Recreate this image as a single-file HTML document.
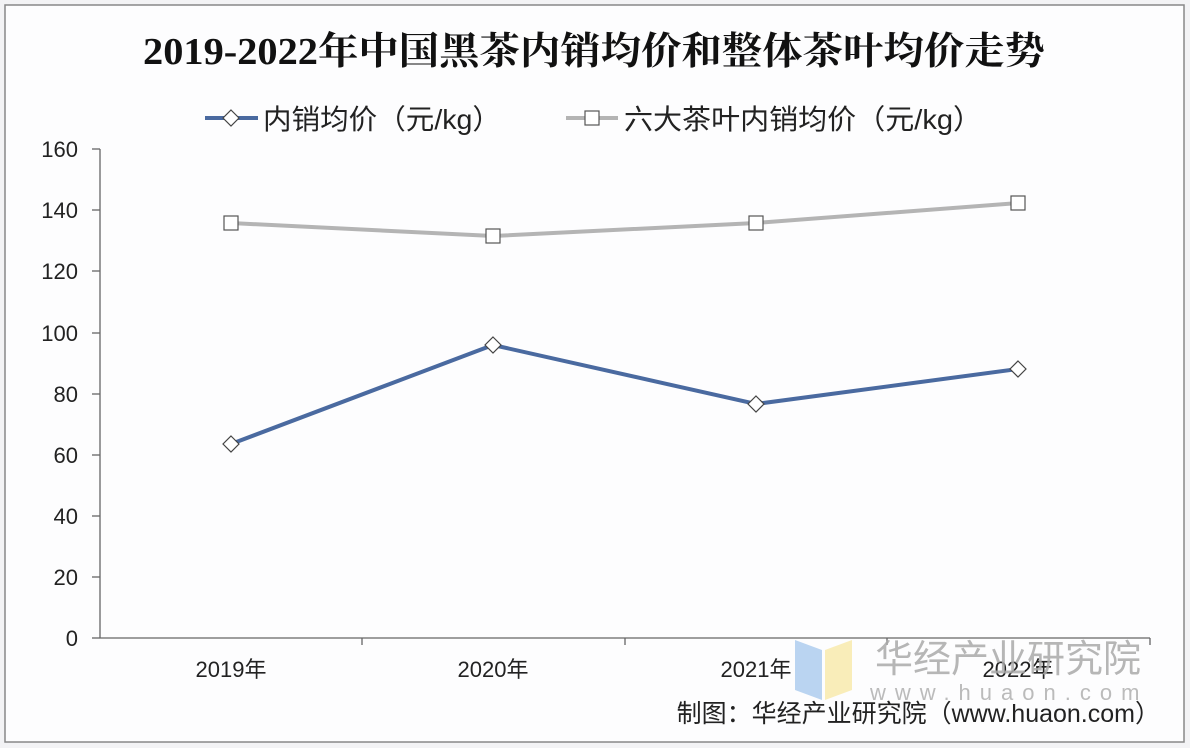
<!DOCTYPE html>
<html><head><meta charset="utf-8"><style>
html,body{margin:0;padding:0;background:#f3f3f5;}
svg{display:block;}
</style></head><body>
<svg width="1190" height="748" xmlns="http://www.w3.org/2000/svg" font-family="'Liberation Sans','Noto Sans CJK SC',sans-serif">
<rect x="5" y="5" width="1179" height="737" fill="#fdfdfe" stroke="#888" stroke-width="1.5"/>
<text x="143" y="64" textLength="902" lengthAdjust="spacingAndGlyphs" font-family="'Liberation Serif','Noto Serif CJK SC',serif" font-weight="bold" font-size="38" fill="#111">2019-2022年中国黑茶内销均价和整体茶叶均价走势</text>
<!-- legend -->
<line x1="205" y1="118" x2="258" y2="118" stroke="#4a6aa0" stroke-width="4"/>
<polygon points="231,110 239,118 231,126 223,118" fill="#fff" stroke="#444" stroke-width="1.2"/>
<text x="263" y="129" textLength="238" lengthAdjust="spacingAndGlyphs" font-size="28" fill="#222">内销均价（元/kg）</text>
<line x1="566" y1="118" x2="618" y2="118" stroke="#b4b4b4" stroke-width="4"/>
<rect x="585" y="111" width="14" height="14" fill="#fff" stroke="#555" stroke-width="1.2"/>
<text x="624" y="129" textLength="358" lengthAdjust="spacingAndGlyphs" font-size="28" fill="#222">六大茶叶内销均价（元/kg）</text>
<!-- axes -->
<g stroke="#666" stroke-width="1.3">
<line x1="100" y1="149" x2="100" y2="638"/>
<line x1="100" y1="638" x2="1150" y2="638"/>
<line x1="92" y1="149" x2="100" y2="149"/><line x1="92" y1="210" x2="100" y2="210"/><line x1="92" y1="271" x2="100" y2="271"/><line x1="92" y1="333" x2="100" y2="333"/><line x1="92" y1="394" x2="100" y2="394"/><line x1="92" y1="455" x2="100" y2="455"/><line x1="92" y1="516" x2="100" y2="516"/><line x1="92" y1="577" x2="100" y2="577"/><line x1="92" y1="638" x2="100" y2="638"/>
<line x1="362" y1="638" x2="362" y2="645"/><line x1="625" y1="638" x2="625" y2="645"/><line x1="887" y1="638" x2="887" y2="645"/><line x1="1150" y1="638" x2="1150" y2="645"/>
</g>
<g font-size="22" fill="#222" text-anchor="end">
<text x="78" y="157">160</text><text x="78" y="218">140</text><text x="78" y="279">120</text><text x="78" y="341">100</text><text x="78" y="402">80</text><text x="78" y="463">60</text><text x="78" y="524">40</text><text x="78" y="585">20</text><text x="78" y="646">0</text>
</g>
<g font-size="22" fill="#222" text-anchor="middle">
<text x="231" y="677">2019年</text><text x="493" y="677">2020年</text><text x="756" y="677">2021年</text><text x="1018" y="677">2022年</text>
</g>
<!-- series -->
<polyline points="231,223 493,236 756,223 1018,203" fill="none" stroke="#b4b4b4" stroke-width="4"/>
<g fill="#fff" stroke="#555" stroke-width="1.2">
<rect x="224" y="216" width="14" height="14"/><rect x="486" y="229" width="14" height="14"/><rect x="749" y="216" width="14" height="14"/><rect x="1011" y="196" width="14" height="14"/>
</g>
<polyline points="231,444 493,345 756,404 1018,369" fill="none" stroke="#4a6aa0" stroke-width="4"/>
<g fill="#fff" stroke="#444" stroke-width="1.2">
<polygon points="231,436 239,444 231,452 223,444"/><polygon points="493,337 501,345 493,353 485,345"/><polygon points="756,396 764,404 756,412 748,404"/><polygon points="1018,361 1026,369 1018,377 1010,369"/>
</g>
<!-- watermark -->
<polygon points="795,640 822,650 822,700 795,690" fill="#a9c9ee" opacity="0.8"/>
<polygon points="825,650 852,640 852,690 825,700" fill="#f8e8a8" opacity="0.8"/>
<text x="875" y="672" font-size="38" fill="#aaa" opacity="0.85">华经产业研究院</text>
<text x="870" y="700" font-size="22" fill="#bbb" letter-spacing="9">www.huaon.com</text>
<text x="1160" y="722" text-anchor="end" font-size="25" fill="#222">制图：华经产业研究院（www.huaon.com）</text>
</svg>
</body></html>
